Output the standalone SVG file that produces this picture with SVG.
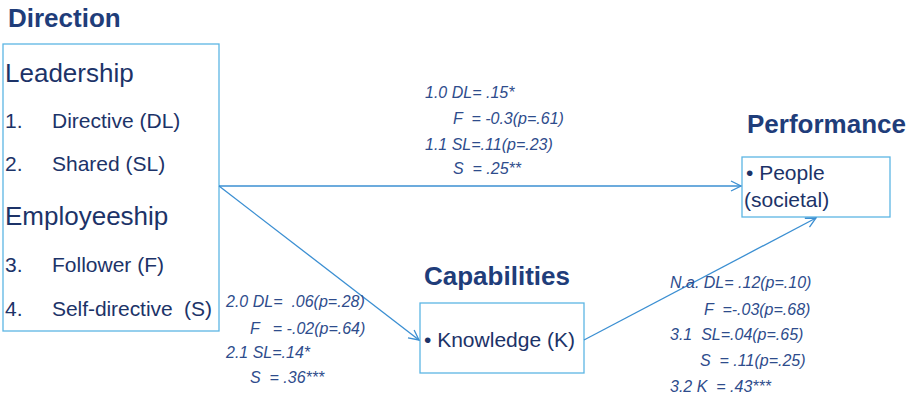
<svg xmlns="http://www.w3.org/2000/svg" width="912" height="396" viewBox="0 0 912 396">
<defs>
<style>
text{white-space:pre}
.box{fill:#fff;stroke:#5cb6e4;stroke-width:1.3}
.h{font-family:"Liberation Sans",Arial,sans-serif;font-weight:bold;font-size:26px;fill:#1f3d7a}
.t{font-family:"Liberation Sans",Arial,sans-serif;fill:#1c3368}
.big{font-size:26px}
.item{font-size:21px}
.lbl{font-family:"Liberation Sans",Arial,sans-serif;font-style:italic;font-size:16px;fill:#2e4c8c}
.con{stroke:#3b8fd2;stroke-width:1.3;fill:none}
</style>
<marker id="arr" viewBox="0 0 12 12" refX="11" refY="6" markerWidth="12" markerHeight="12" markerUnits="userSpaceOnUse" orient="auto">
<path d="M1,1 L11,6 L1,11" fill="none" stroke="#3b8fd2" stroke-width="1.3"/>
</marker>
</defs>
<rect width="912" height="396" fill="#fff"/>

<g id="direction">
<text class="h" x="8" y="27">Direction</text>
<rect class="box" x="3" y="44" width="216" height="287"/>
<text class="t big" x="5" y="82">Leadership</text>
<text class="t item" x="5" y="128">1.</text>
<text class="t item" x="52" y="128">Directive (DL)</text>
<text class="t item" x="5" y="171">2.</text>
<text class="t item" x="52" y="171">Shared (SL)</text>
<text class="t big" x="5" y="225">Employeeship</text>
<text class="t item" x="5" y="272">3.</text>
<text class="t item" x="52" y="272">Follower (F)</text>
<text class="t item" x="5" y="316">4.</text>
<text class="t item" x="52" y="316" textLength="160">Self-directive  (S)</text>
</g>

<g id="performance">
<text class="h" x="747" y="133">Performance</text>
<rect class="box" x="742" y="157" width="148" height="60"/>
<text class="t item" x="746" y="180">• People</text>
<text class="t item" x="744" y="207">(societal)</text>
</g>

<g id="capabilities">
<text class="h" x="424" y="285">Capabilities</text>
<rect class="box" x="420" y="303" width="164" height="70"/>
<text class="t item" x="424" y="347">• Knowledge (K)</text>
</g>

<g id="connectors">
<line class="con" x1="219" y1="186" x2="741" y2="186" marker-end="url(#arr)"/>
<line class="con" x1="219" y1="186" x2="419" y2="340" marker-end="url(#arr)"/>
<line class="con" x1="584" y1="340" x2="816" y2="218" marker-end="url(#arr)"/>
</g>

<g id="labels">
<text class="lbl" x="425" y="98">1.0 DL= .15*</text>
<text class="lbl" x="453" y="124">F  = -0.3(p=.61)</text>
<text class="lbl" x="425" y="150">1.1 SL=.11(p=.23)</text>
<text class="lbl" x="453" y="174">S  = .25**</text>

<text class="lbl" x="226" y="307">2.0 DL=  .06(p=.28)</text>
<text class="lbl" x="250" y="334">F   = -.02(p=.64)</text>
<text class="lbl" x="226" y="358">2.1 SL=.14*</text>
<text class="lbl" x="250" y="383">S  = .36***</text>

<text class="lbl" x="670" y="288">N.a. DL= .12(p=.10)</text>
<text class="lbl" x="704" y="315">F  =-.03(p=.68)</text>
<text class="lbl" x="670" y="340">3.1  SL=.04(p=.65)</text>
<text class="lbl" x="700" y="366">S  = .11(p=.25)</text>
<text class="lbl" x="670" y="392">3.2 K  = .43***</text>
</g>
</svg>
